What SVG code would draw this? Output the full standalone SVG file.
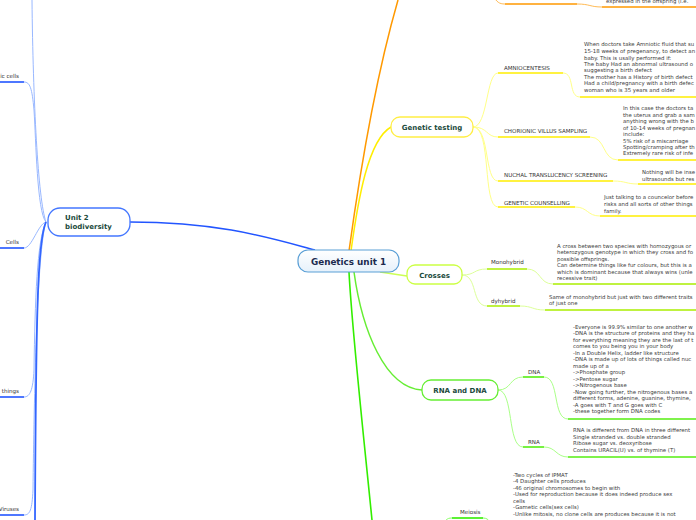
<svg xmlns="http://www.w3.org/2000/svg" width="696" height="520" viewBox="0 0 696 520">
<defs>
<linearGradient id="cg" x1="0" y1="0" x2="0" y2="1"><stop offset="0" stop-color="#ffffff"/><stop offset="1" stop-color="#e6f1fb"/></linearGradient>
<style>
.node text{font-family:"DejaVu Sans",Verdana,sans-serif;font-weight:bold;fill:#1b4a3c}
.lbl{font-family:"DejaVu Sans",Verdana,sans-serif;font-size:5.55px;fill:#333}
.desc{font-family:"DejaVu Sans",Verdana,sans-serif;font-size:5.4px;fill:#3c3c3c}
</style>
</defs>
<rect width="696" height="520" fill="#fff"/>
<g id="connectors" fill="none">
<path d="M46,222 C 38,200 33,100 32,0" stroke="#99b8ff" stroke-width="1"/>
<path d="M46,222 C 37,212 36,140 34,110 C 32,88 30,82 24,82" stroke="#99b8ff" stroke-width="1"/>
<path d="M0,82 H24" stroke="#2255ff" stroke-width="1.6"/>
<path d="M46,222 C 38,224 32,248 24,248" stroke="#99b8ff" stroke-width="1"/>
<path d="M0,248 H24" stroke="#2255ff" stroke-width="1.6"/>
<path d="M46,222 C 37,240 35,300 34,370 C 33,390 30,397 24,397" stroke="#99b8ff" stroke-width="1"/>
<path d="M0,397 H24" stroke="#2255ff" stroke-width="1.6"/>
<path d="M46,222 C 37,250 34,400 33,490 C 32,510 30,515 24,515" stroke="#99b8ff" stroke-width="1"/>
<path d="M0,515 H24" stroke="#2255ff" stroke-width="1.6"/>
<path d="M46,222 C 38,240 36,300 35,520" stroke="#3366ff" stroke-width="1.8"/>
<path d="M130,222 C 220,222 270,238 315,250" stroke="#2255ff" stroke-width="1.5"/>
<path d="M349,251 C 356,200 372,90 398,0" stroke="#ff9900" stroke-width="1.5"/>
<path d="M493,-4 C 497,2 499,4 505,4" stroke="#ffbb55" stroke-width="1"/>
<path d="M505,4 H577" stroke="#ff9900" stroke-width="1.6"/>
<path d="M577,4 C 590,4 590,7 602,7" stroke="#ffbb55" stroke-width="1"/>
<path d="M602,7 H696" stroke="#ff9900" stroke-width="1.6"/>
<path d="M351,251 C 358,200 368,140 391,127" stroke="#ffee00" stroke-width="1.5"/>
<path d="M473,127 C 488,127 486,73 498,73" stroke="#ffff88" stroke-width="1"/>
<path d="M498,73 H563" stroke="#ffee00" stroke-width="1.6"/>
<path d="M563,73 C 575,73 568,97 580,97" stroke="#ffff88" stroke-width="1"/>
<path d="M580,97 H696" stroke="#ffee00" stroke-width="1.6"/>
<path d="M473,127 C 488,127 486,137 498,137" stroke="#ffff88" stroke-width="1"/>
<path d="M498,137 H590" stroke="#ffee00" stroke-width="1.6"/>
<path d="M590,137 C 606,137 602,160 618,160" stroke="#ffff88" stroke-width="1"/>
<path d="M618,160 H696" stroke="#ffee00" stroke-width="1.6"/>
<path d="M473,127 C 490,127 484,181 498,181" stroke="#ffff88" stroke-width="1"/>
<path d="M498,181 H613" stroke="#ffee00" stroke-width="1.6"/>
<path d="M613,181 C 626,181 626,184 638,184" stroke="#ffff88" stroke-width="1"/>
<path d="M638,184 H696" stroke="#ffee00" stroke-width="1.6"/>
<path d="M473,127 C 492,127 482,207 498,207" stroke="#ffff88" stroke-width="1"/>
<path d="M498,207 H575" stroke="#ffee00" stroke-width="1.6"/>
<path d="M575,207 C 588,207 587,216 600,216" stroke="#ffff88" stroke-width="1"/>
<path d="M600,216 H696" stroke="#ffee00" stroke-width="1.6"/>
<path d="M380,272 L407,276" stroke="#ccff55" stroke-width="1.5"/>
<path d="M462,275 C 476,275 473,269 487,269" stroke="#ddff99" stroke-width="1"/>
<path d="M487,269 H527" stroke="#aaee00" stroke-width="1.6"/>
<path d="M527,269 C 541,269 539,284 553,284" stroke="#ddff99" stroke-width="1"/>
<path d="M553,284 H696" stroke="#aaee00" stroke-width="1.6"/>
<path d="M462,275 C 478,275 471,306 487,306" stroke="#ddff99" stroke-width="1"/>
<path d="M487,306 H520" stroke="#aaee00" stroke-width="1.6"/>
<path d="M520,306 C 533,306 532,310 545,310" stroke="#ddff99" stroke-width="1"/>
<path d="M545,310 H696" stroke="#aaee00" stroke-width="1.6"/>
<path d="M349,272 C 352,330 362,420 372,520" stroke="#33ee00" stroke-width="1.6"/>
<path d="M354,272 C 362,330 385,388 422,390" stroke="#66ee33" stroke-width="1.5"/>
<path d="M498,390 C 512,390 509,377 523,377" stroke="#aaff88" stroke-width="1"/>
<path d="M523,377 H544" stroke="#55ee11" stroke-width="1.6"/>
<path d="M544,377 C 560,377 552,419 568,419" stroke="#aaff88" stroke-width="1"/>
<path d="M568,419 H696" stroke="#55ee11" stroke-width="1.6"/>
<path d="M498,390 C 514,390 507,447 523,447" stroke="#aaff88" stroke-width="1"/>
<path d="M523,447 H544" stroke="#55ee11" stroke-width="1.6"/>
<path d="M544,447 C 556,447 556,457 568,457" stroke="#aaff88" stroke-width="1"/>
<path d="M568,457 H696" stroke="#55ee11" stroke-width="1.6"/>
<path d="M440,530 C 446,520 446,518 452,518" stroke="#88ff66" stroke-width="1"/>
<path d="M452,518 H483" stroke="#33ee00" stroke-width="1.6"/>
<path d="M483,518 C 490,518 490,524 494,530" stroke="#88ff66" stroke-width="1"/>
</g>
<g id="central" class="node">
<rect x="298" y="250" width="101" height="22" rx="10" fill="url(#cg)" stroke="#5a9fd6" stroke-width="1.2"/>
<text x="348.5" y="264.5" font-size="8.8" text-anchor="middle" style="fill:#1b2b4f">Genetics unit 1</text>
</g>
<g id="unit2" class="node">
<rect x="48" y="208" width="82" height="28" rx="12" fill="#fff" stroke="#4477ff" stroke-width="1.3"/>
<text x="65" y="220" font-size="7">Unit 2</text>
<text x="65" y="229" font-size="7">biodiversity</text>
</g>
<g id="genetic-testing" class="node">
<rect x="391" y="117" width="82" height="20" rx="9" fill="#fff" stroke="#ffee44" stroke-width="1.3"/>
<text x="432" y="130" font-size="7" text-anchor="middle">Genetic testing</text>
</g>
<g id="crosses" class="node">
<rect x="407" y="265" width="55" height="19" rx="8" fill="#fff" stroke="#ccff44" stroke-width="1.3"/>
<text x="434.5" y="277.5" font-size="7" text-anchor="middle">Crosses</text>
</g>
<g id="rna-dna" class="node">
<rect x="422" y="380" width="76" height="20" rx="9" fill="#fff" stroke="#66ee33" stroke-width="1.3"/>
<text x="460" y="393" font-size="7" text-anchor="middle">RNA and DNA</text>
</g>
<g id="left-labels">
<text class="lbl" x="19" y="78" text-anchor="end">ic cells</text>
<text class="lbl" x="19" y="244" text-anchor="end">Cells</text>
<text class="lbl" x="19" y="393" text-anchor="end">things</text>
<text class="lbl" x="19" y="511" text-anchor="end">Viruses</text>
</g>
<g id="top-orange">
<text class="desc" x="606" y="3">expressed in the offspring (i.e.</text>
</g>
<g id="amniocentesis">
<text class="lbl" x="504" y="70">AMNIOCENTESIS</text>
<text class="desc" x="584" y="46">When doctors take Amniotic fluid that su</text>
<text class="desc" x="584" y="53">15-18 weeks of pregenancy, to detect an</text>
<text class="desc" x="584" y="59.5">baby. This is usally performed if:</text>
<text class="desc" x="584" y="66">The baby Had an abnormal ultrasound o</text>
<text class="desc" x="584" y="72">suggesting a birth defect</text>
<text class="desc" x="584" y="78.5">The mother has a History of birth defect</text>
<text class="desc" x="584" y="85">Had a child/pregnancy with a birth defec</text>
<text class="desc" x="584" y="92">woman who is 35 years and older</text>
</g>
<g id="cvs">
<text class="lbl" x="504" y="133">CHORIONIC VILLUS SAMPLING</text>
<text class="desc" x="623" y="110">In this case the doctors ta</text>
<text class="desc" x="623" y="116.5">the uterus and grab a sam</text>
<text class="desc" x="623" y="123">anything wrong with the b</text>
<text class="desc" x="623" y="129.5">of 10-14 weeks of pregnan</text>
<text class="desc" x="623" y="136">include:</text>
<text class="desc" x="623" y="142.5">5% risk of a miscarriage</text>
<text class="desc" x="623" y="149">Spotting/cramping after th</text>
<text class="desc" x="623" y="155">Extremely rare risk of infe</text>
</g>
<g id="nuchal">
<text class="lbl" x="504" y="177">NUCHAL TRANSLUCENCY SCREENING</text>
<text class="desc" x="642" y="173.5">Nothing will be inse</text>
<text class="desc" x="642" y="180.5">ultrasounds but res</text>
</g>
<g id="counselling">
<text class="lbl" x="504" y="205">GENETIC COUNSELLING</text>
<text class="desc" x="604" y="199">Just talking to a councelor before</text>
<text class="desc" x="604" y="205.5">risks and all sorts of other things</text>
<text class="desc" x="604" y="212.5">family.</text>
</g>
<g id="monohybrid">
<text class="lbl" x="491" y="264">Monohybrid</text>
<text class="desc" x="557" y="247.5">A cross between two species with homozygous or</text>
<text class="desc" x="557" y="254">heterozygous genotype in which they cross and fo</text>
<text class="desc" x="557" y="260.5">possible offsprings.</text>
<text class="desc" x="557" y="267">Can determine things like fur colours, but this is a</text>
<text class="desc" x="557" y="273.5">which is dominant because that always wins (unle</text>
<text class="desc" x="557" y="280">recessive trait)</text>
</g>
<g id="dyhybrid">
<text class="lbl" x="491" y="302.5">dyhybrid</text>
<text class="desc" x="549" y="298.5">Same of monohybrid but just with two different traits</text>
<text class="desc" x="549" y="305">of just one</text>
</g>
<g id="dna">
<text class="lbl" x="528" y="374">DNA</text>
<text class="desc" x="573" y="328.5">-Everyone is 99.9% similar to one another w</text>
<text class="desc" x="573" y="335">-DNA is the structure of proteins and they ha</text>
<text class="desc" x="573" y="341.5">for everything meaning they are the last of t</text>
<text class="desc" x="573" y="348">comes to you being you in your body</text>
<text class="desc" x="573" y="354.5">-In a Double Helix, ladder like structure</text>
<text class="desc" x="573" y="361">-DNA is made up of lots of things called nuc</text>
<text class="desc" x="573" y="367.5">made up of a</text>
<text class="desc" x="573" y="374">-&gt;Phosphate group</text>
<text class="desc" x="573" y="380.5">-&gt;Pentose sugar</text>
<text class="desc" x="573" y="387">-&gt;Nitrogenous base</text>
<text class="desc" x="573" y="393.5">-Now going further, the nitrogenous bases a</text>
<text class="desc" x="573" y="400">different forms, adenine, guanine, thymine,</text>
<text class="desc" x="573" y="406.5">-A goes with T and G goes with C</text>
<text class="desc" x="573" y="413">-these together form DNA codes</text>
</g>
<g id="rna">
<text class="lbl" x="528" y="443.5">RNA</text>
<text class="desc" x="573" y="432">RNA is different from DNA in three different</text>
<text class="desc" x="573" y="438.5">Single stranded vs. double stranded</text>
<text class="desc" x="573" y="445">Ribose sugar  vs. deoxyribose</text>
<text class="desc" x="573" y="451.5">Contains URACIL(U) vs. of thymine (T)</text>
</g>
<g id="meiosis">
<text class="lbl" x="460" y="513.5">Meiosis</text>
<text class="desc" x="513" y="476.5">-Two cycles of IPMAT</text>
<text class="desc" x="513" y="483">-4 Daughter cells produces</text>
<text class="desc" x="513" y="489.5">-46 original chromosomes to begin with</text>
<text class="desc" x="513" y="496">-Used for reproduction because it does indeed produce sex</text>
<text class="desc" x="513" y="502.5">cells</text>
<text class="desc" x="513" y="509">-Gametic cells(sex cells)</text>
<text class="desc" x="513" y="515.5">-Unlike mitosis, no clone cells are produces because it is not</text>
</g>
</svg>
